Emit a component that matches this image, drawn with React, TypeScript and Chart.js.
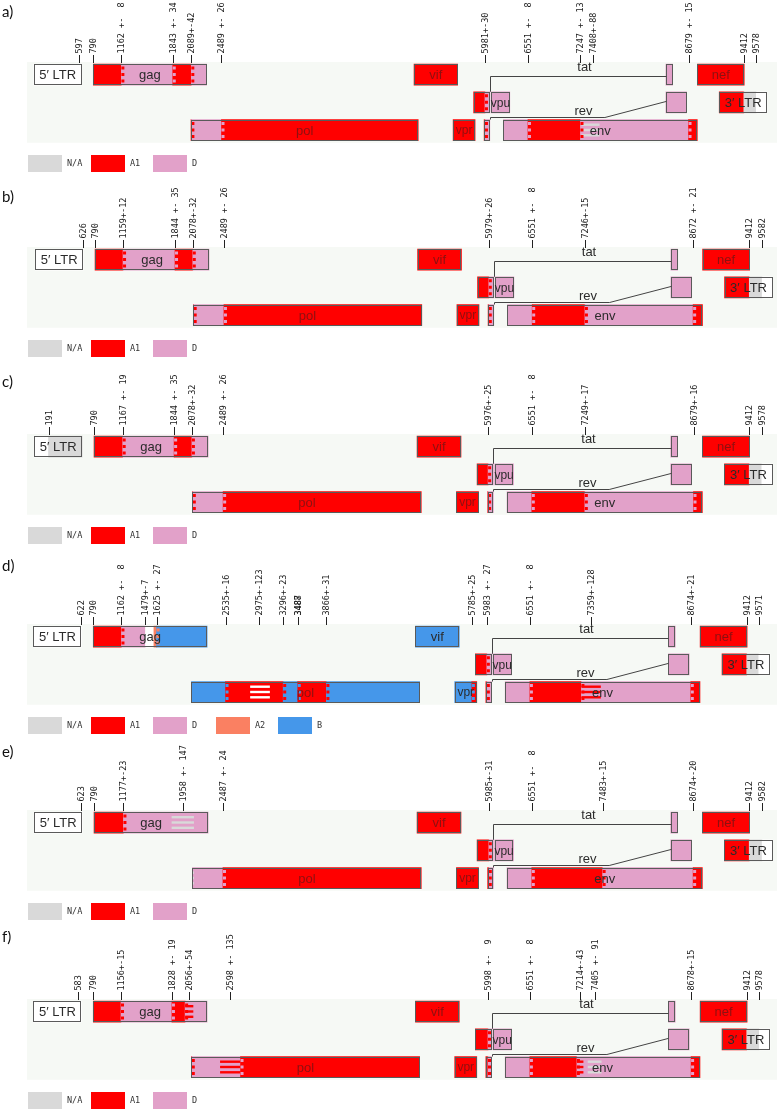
import React, { useEffect, useRef } from 'react';
import { Chart, registerables } from 'chart.js';

Chart.register(...registerables);

// ---------- colours & names of subtypes ----------
const SUBTYPE_COLORS: Record<string, string> = {
  NA: '#d9d9d9',
  A1: '#ff0000',
  D: '#e2a1c9',
  A2: '#fa8062',
  B: '#4597ea',
  W: '#ffffff',
};
const SUBTYPE_NAMES: Record<string, string> = { NA: 'N/A', A1: 'A1', D: 'D', A2: 'A2', B: 'B' };

const ROWS = ['row1', 'row2', 'row3'];

// HXB2 gene map: [key, label, start, end, row]
const GENES: [string, string, number, number, number][] = [
  ['5LTR', '5\u2032 LTR', 1, 634, 0],
  ['gag', 'gag', 790, 2292, 0],
  ['pol', 'pol', 2085, 5096, 2],
  ['vif', 'vif', 5041, 5619, 0],
  ['vpr', 'vpr', 5559, 5850, 2],
  ['tat1', '', 5831, 6045, 1],
  ['rev1', '', 5970, 6045, 2],
  ['vpu', 'vpu', 6062, 6310, 1],
  ['env', 'env', 6225, 8795, 2],
  ['tat2', '', 8379, 8469, 0],
  ['rev2', '', 8379, 8653, 1],
  ['nef', 'nef', 8797, 9417, 0],
  ['3LTR', '3\u2032 LTR', 9086, 9719, 1],
];

// ---------- panel a ----------
const segA = [
  ['5LTR', 1, 634, 'W'],
  ['gag', 790, 1162, 'A1'], ['gag', 1162, 1843, 'D'], ['gag', 1843, 2089, 'A1'], ['gag', 2089, 2292, 'D'],
  ['pol', 2085, 2090, 'A1'], ['pol', 2090, 2489, 'D'], ['pol', 2489, 5096, 'A1'],
  ['vif', 5041, 5619, 'A1'],
  ['vpr', 5559, 5850, 'A1'],
  ['tat1', 5831, 5981, 'A1'], ['tat1', 5981, 6045, 'D'],
  ['rev1', 5970, 5981, 'A1'], ['rev1', 5981, 6045, 'D'],
  ['vpu', 6062, 6310, 'D'],
  ['env', 6225, 6551, 'D'], ['env', 6551, 7247, 'A1'], ['env', 7247, 8679, 'D'], ['env', 8679, 8795, 'A1'],
  ['tat2', 8379, 8469, 'D'],
  ['rev2', 8379, 8653, 'D'],
  ['nef', 8797, 9417, 'A1'],
  ['3LTR', 9086, 9412, 'A1'], ['3LTR', 9412, 9578, 'NA'], ['3LTR', 9578, 9719, 'W'],
];
const stripesA = [['env', 7262, 7500, 'NA']];
const ticksA = [
  [597, '597'], [790, '790'], [1162, '1162 +-  8'], [1843, '1843 +- 34'], [2089, '2089+-42'],
  [2489, '2489 +- 26'], [5981, '5981+-30'], [6551, '6551 +-  8'], [7247, '7247 +- 13'],
  [7408, '7408+-88'], [8679, '8679 +- 15'], [9412, '9412'], [9578, '9578'],
];
const legendA = ['NA', 'A1', 'D'];

// ---------- panel b ----------
const segB = [
  ['5LTR', 1, 634, 'W'],
  ['gag', 790, 1159, 'A1'], ['gag', 1159, 1844, 'D'], ['gag', 1844, 2078, 'A1'], ['gag', 2078, 2292, 'D'],
  ['pol', 2085, 2090, 'A1'], ['pol', 2090, 2489, 'D'], ['pol', 2489, 5096, 'A1'],
  ['vif', 5041, 5619, 'A1'],
  ['vpr', 5559, 5850, 'A1'],
  ['tat1', 5831, 5979, 'A1'], ['tat1', 5979, 6045, 'D'],
  ['rev1', 5970, 5979, 'A1'], ['rev1', 5979, 6045, 'D'],
  ['vpu', 6062, 6310, 'D'],
  ['env', 6225, 6551, 'D'], ['env', 6551, 7246, 'A1'], ['env', 7246, 8672, 'D'], ['env', 8672, 8795, 'A1'],
  ['tat2', 8379, 8469, 'D'],
  ['rev2', 8379, 8653, 'D'],
  ['nef', 8797, 9417, 'A1'],
  ['3LTR', 9086, 9412, 'A1'], ['3LTR', 9412, 9582, 'NA'], ['3LTR', 9582, 9719, 'W'],
];
const stripesB: any[] = [];
const ticksB = [
  [626, '626'], [790, '790'], [1159, '1159+-12'], [1844, '1844 +- 35'], [2078, '2078+-32'],
  [2489, '2489 +- 26'], [5979, '5979+-26'], [6551, '6551 +-  8'], [7246, '7246+-15'],
  [8672, '8672 +- 21'], [9412, '9412'], [9582, '9582'],
];
const legendB = ['NA', 'A1', 'D'];

// ---------- panel c ----------
const segC = [
  ['5LTR', 1, 191, 'W'], ['5LTR', 191, 634, 'NA'],
  ['gag', 790, 1167, 'A1'], ['gag', 1167, 1844, 'D'], ['gag', 1844, 2078, 'A1'], ['gag', 2078, 2292, 'D'],
  ['pol', 2085, 2090, 'A1'], ['pol', 2090, 2489, 'D'], ['pol', 2489, 5096, 'A1'],
  ['vif', 5041, 5619, 'A1'],
  ['vpr', 5559, 5850, 'A1'],
  ['tat1', 5831, 5976, 'A1'], ['tat1', 5976, 6045, 'D'],
  ['rev1', 5970, 5976, 'A1'], ['rev1', 5976, 6045, 'D'],
  ['vpu', 6062, 6310, 'D'],
  ['env', 6225, 6551, 'D'], ['env', 6551, 7249, 'A1'], ['env', 7249, 8679, 'D'], ['env', 8679, 8795, 'A1'],
  ['tat2', 8379, 8469, 'D'],
  ['rev2', 8379, 8653, 'D'],
  ['nef', 8797, 9417, 'A1'],
  ['3LTR', 9086, 9412, 'A1'], ['3LTR', 9412, 9578, 'NA'], ['3LTR', 9578, 9719, 'W'],
];
const stripesC: any[] = [];
const ticksC = [
  [191, '191'], [790, '790'], [1167, '1167 +- 19'], [1844, '1844 +- 35'], [2078, '2078+-32'],
  [2489, '2489 +- 26'], [5976, '5976+-25'], [6551, '6551 +-  8'], [7249, '7249+-17'],
  [8679, '8679+-16'], [9412, '9412'], [9578, '9578'],
];
const legendC = ['NA', 'A1', 'D'];

// ---------- panel d ----------
const segD = [
  ['5LTR', 1, 634, 'W'],
  ['gag', 790, 1162, 'A1'], ['gag', 1162, 1479, 'D'], ['gag', 1479, 1590, 'W'], ['gag', 1590, 1625, 'A2'], ['gag', 1625, 2292, 'B'],
  ['pol', 2085, 2535, 'B'], ['pol', 2535, 3296, 'A1'], ['pol', 3296, 3488, 'B'], ['pol', 3488, 3866, 'A1'], ['pol', 3866, 5096, 'B'],
  ['vif', 5041, 5619, 'B'],
  ['vpr', 5559, 5785, 'B'], ['vpr', 5785, 5850, 'A1'],
  ['tat1', 5831, 5983, 'A1'], ['tat1', 5983, 6045, 'D'],
  ['rev1', 5970, 5983, 'A1'], ['rev1', 5983, 6045, 'D'],
  ['vpu', 6062, 6310, 'D'],
  ['env', 6225, 6551, 'D'], ['env', 6551, 7231, 'A1'], ['env', 7231, 8674, 'D'], ['env', 8674, 8795, 'A1'],
  ['tat2', 8379, 8469, 'D'],
  ['rev2', 8379, 8653, 'D'],
  ['nef', 8797, 9417, 'A1'],
  ['3LTR', 9086, 9412, 'A1'], ['3LTR', 9412, 9571, 'NA'], ['3LTR', 9571, 9719, 'W'],
];
const stripesD = [['pol', 2860, 3120, 'W'], ['env', 7231, 7487, 'A1']];
const ticksD = [
  [622, '622'], [790, '790'], [1162, '1162 +-  8'], [1479, '1479+-7'], [1625, '1625 +- 27'],
  [2535, '2535+-16'], [2975, '2975+-123'], [3296, '3296+-23'], [3487, '3487'], [3488, '3488'],
  [3866, '3866+-31'], [5785, '5785+-25'], [5983, '5983 +- 27'], [6551, '6551 +-  8'],
  [7359, '7359+-128'], [8674, '8674+-21'], [9412, '9412'], [9571, '9571'],
];
const legendD = ['NA', 'A1', 'D', 'A2', 'B'];

// ---------- panel e ----------
const segE = [
  ['5LTR', 1, 634, 'W'],
  ['gag', 790, 1177, 'A1'], ['gag', 1177, 2292, 'D'],
  ['pol', 2085, 2487, 'D'], ['pol', 2487, 5096, 'A1'],
  ['vif', 5041, 5619, 'A1'],
  ['vpr', 5559, 5850, 'A1'],
  ['tat1', 5831, 5985, 'A1'], ['tat1', 5985, 6045, 'D'],
  ['rev1', 5970, 5985, 'A1'], ['rev1', 5985, 6045, 'D'],
  ['vpu', 6062, 6310, 'D'],
  ['env', 6225, 6551, 'D'], ['env', 6551, 7483, 'A1'], ['env', 7483, 8674, 'D'], ['env', 8674, 8795, 'A1'],
  ['tat2', 8379, 8469, 'D'],
  ['rev2', 8379, 8653, 'D'],
  ['nef', 8797, 9417, 'A1'],
  ['3LTR', 9086, 9412, 'A1'], ['3LTR', 9412, 9582, 'NA'], ['3LTR', 9582, 9719, 'W'],
];
const stripesE = [['gag', 1811, 2105, 'NA'], ['pol', 2085, 2105, 'NA']];
const ticksE = [
  [623, '623'], [790, '790'], [1177, '1177+-23'], [1958, '1958 +- 147'], [2487, '2487 +- 24'],
  [5985, '5985+-31'], [6551, '6551 +-  8'], [7483, '7483+-15'], [8674, '8674+-20'],
  [9412, '9412'], [9582, '9582'],
];
const legendE = ['NA', 'A1', 'D'];

// ---------- panel f ----------
const segF = [
  ['5LTR', 1, 634, 'W'],
  ['gag', 790, 1156, 'A1'], ['gag', 1156, 1828, 'D'], ['gag', 1828, 2002, 'A1'], ['gag', 2002, 2292, 'D'],
  ['pol', 2085, 2090, 'A1'], ['pol', 2090, 2733, 'D'], ['pol', 2733, 5096, 'A1'],
  ['vif', 5041, 5619, 'A1'],
  ['vpr', 5559, 5850, 'A1'],
  ['tat1', 5831, 5998, 'A1'], ['tat1', 5998, 6045, 'D'],
  ['rev1', 5970, 5998, 'A1'], ['rev1', 5998, 6045, 'D'],
  ['vpu', 6062, 6310, 'D'],
  ['env', 6225, 6551, 'D'], ['env', 6551, 7171, 'A1'], ['env', 7171, 8678, 'D'], ['env', 8678, 8795, 'A1'],
  ['tat2', 8379, 8469, 'D'],
  ['rev2', 8379, 8653, 'D'],
  ['nef', 8797, 9417, 'A1'],
  ['3LTR', 9086, 9412, 'A1'], ['3LTR', 9412, 9578, 'NA'], ['3LTR', 9578, 9719, 'W'],
];
const stripesF = [['gag', 2002, 2110, 'A1'], ['pol', 2463, 2733, 'A1'], ['env', 7171, 7257, 'A1'], ['env', 7314, 7496, 'NA']];
const ticksF = [
  [583, '583'], [790, '790'], [1156, '1156+-15'], [1828, '1828 +- 19'], [2056, '2056+-54'],
  [2598, '2598 +- 135'], [5998, '5998 +-  9'], [6551, '6551 +-  8'], [7214, '7214+-43'],
  [7405, '7405 +- 91'], [8678, '8678+-15'], [9412, '9412'], [9578, '9578'],
];
const legendF = ['NA', 'A1', 'D'];

// ---------- layout (pixel geometry, kept separate from data) ----------
const CANVAS_H = 180;
const LOCAL_TOP = 70; // local y of row-1 top inside each canvas
const BAR = 21.25;
const PITCH = 27.75;

const PANELS = [
  { name: 'a)', segs: segA, stripes: stripesA, ticks: ticksA, legend: legendA, top: 64, labelY: 12, x0: 33.7, k: 0.07545 },
  { name: 'b)', segs: segB, stripes: stripesB, ticks: ticksB, legend: legendB, top: 249, labelY: 197, x0: 35.1, k: 0.07588 },
  { name: 'c)', segs: segC, stripes: stripesC, ticks: ticksC, legend: legendC, top: 436, labelY: 382, x0: 34.0, k: 0.07599 },
  { name: 'd)', segs: segD, stripes: stripesD, ticks: ticksD, legend: legendD, top: 626, labelY: 566, x0: 33.4, k: 0.07579 },
  { name: 'e)', segs: segE, stripes: stripesE, ticks: ticksE, legend: legendE, top: 812, labelY: 752, x0: 34.0, k: 0.07599 },
  { name: 'f)', segs: segF, stripes: stripesF, ticks: ticksF, legend: legendF, top: 1001, labelY: 937, x0: 33.4, k: 0.07579 },
];

const geneMap: Record<string, [string, string, number, number, number]> = {};
GENES.forEach((g) => { geneMap[g[0]] = g; });

function makeDecor(p: any) {
  const canvasTop = p.top - LOCAL_TOP;
  return {
    id: 'decor',
    beforeDatasetsDraw(chart: any) {
      const { ctx } = chart;
      const ys = chart.scales.y;
      const t0 = ys.getPixelForValue(0) - BAR / 2;
      const b2 = ys.getPixelForValue(2) + BAR / 2;
      ctx.save();
      ctx.fillStyle = '#f6f9f5';
      ctx.fillRect(27, t0 - 2, 750, b2 - t0 + 4);
      ctx.restore();
    },
    afterDatasetsDraw(chart: any) {
      const { ctx } = chart;
      const xs = chart.scales.x;
      const ys = chart.scales.y;
      const px = (v: number) => xs.getPixelForValue(v);
      const rowMid = (r: number) => ys.getPixelForValue(r);
      const rowTop = (r: number) => ys.getPixelForValue(r) - BAR / 2;
      ctx.save();

      // striped (uncertain) regions
      p.stripes.forEach(([g, s, e, sub]: any) => {
        const top = rowTop(geneMap[g][4]);
        ctx.fillStyle = SUBTYPE_COLORS[sub];
        [4, 9.3, 14.6].forEach((o) => ctx.fillRect(px(s), top + o, px(e) - px(s), 2.4));
      });

      // serrated breakpoints
      for (let i = 1; i < p.segs.length; i++) {
        const a = p.segs[i - 1];
        const b = p.segs[i];
        if (a[0] !== b[0] || a[3] === b[3]) continue;
        if (a[0].indexOf('LTR') >= 0) continue;
        if (a[3] === 'W' || b[3] === 'W' || a[3] === 'NA' || b[3] === 'NA') continue;
        const top = rowTop(geneMap[a[0]][4]);
        const x = px(b[1]);
        ctx.fillStyle = SUBTYPE_COLORS[a[3]];
        [2.5, 9, 15.5].forEach((o) => ctx.fillRect(x, top + o, 3, 3));
      }

      // gene outlines
      ctx.strokeStyle = '#5a5a5a';
      ctx.lineWidth = 1;
      GENES.forEach(([, , s, e, r]) => {
        const x0 = Math.round(px(s)) + 0.5;
        const x1 = Math.round(px(e)) - 0.5;
        const t = Math.round(rowTop(r)) + 0.5;
        ctx.strokeRect(x0, t, x1 - x0, Math.round(BAR) - 1);
      });

      // gene names
      ctx.textAlign = 'center';
      ctx.textBaseline = 'middle';
      GENES.forEach(([key, label, s, e, r]) => {
        if (!label) return;
        const mid = (s + e) / 2;
        const seg = p.segs.find((sg: any) => sg[0] === key && sg[1] <= mid && sg[2] >= mid);
        const onRed = seg && seg[3] === 'A1' && key.indexOf('LTR') < 0;
        ctx.fillStyle = onRed ? '#8e1010' : '#2b2b2b';
        ctx.font = (key === 'vpu' || key === 'vpr' ? '12px' : '13px') + ' "Liberation Sans", Arial, sans-serif';
        ctx.fillText(label, (px(s) + px(e)) / 2, rowMid(r) + 1);
      });

      // tat / rev splice connectors
      const xs1 = Math.round(px(6045)) + 0.5;
      const xe2 = Math.round(px(8379)) + 0.5;
      ctx.strokeStyle = '#444';
      const tatY = Math.round(rowTop(0) + 12) + 0.5;
      ctx.beginPath();
      ctx.moveTo(xs1, rowTop(1));
      ctx.lineTo(xs1, tatY);
      ctx.lineTo(xe2, tatY);
      ctx.stroke();
      const revY = Math.round(rowTop(2) - 3) + 0.5;
      const xm = xs1 + 0.65 * (xe2 - xs1);
      ctx.beginPath();
      ctx.moveTo(xs1, rowTop(2));
      ctx.lineTo(xs1, revY);
      ctx.lineTo(xm, revY);
      ctx.lineTo(xe2, rowMid(1) - 1);
      ctx.stroke();
      ctx.font = '13px "Liberation Sans", Arial, sans-serif';
      ctx.fillStyle = '#2b2b2b';
      ctx.fillText('tat', (xs1 + xe2) / 2 + 6, tatY - 9);
      ctx.fillText('rev', (xs1 + xe2) / 2 + 5, revY - 6);

      // breakpoint tick labels
      ctx.font = '8.5px "DejaVu Sans Mono", monospace';
      ctx.fillStyle = '#222';
      ctx.strokeStyle = '#222';
      p.ticks.forEach(([v, txt]: any) => {
        const x = Math.round(px(v)) + 0.5;
        const yb = Math.round(rowTop(0)) - 1;
        ctx.beginPath();
        ctx.moveTo(x, yb);
        ctx.lineTo(x, yb - 8);
        ctx.stroke();
        ctx.save();
        ctx.translate(x, yb - 9.5);
        ctx.rotate(-Math.PI / 2);
        ctx.textAlign = 'left';
        ctx.textBaseline = 'middle';
        ctx.fillText(txt, 0, 0.5);
        ctx.restore();
      });

      // legend
      const ly = Math.round(rowTop(2) + BAR + 14);
      p.legend.forEach((k: string, i: number) => {
        const bx = Math.round(28 + i * 62.5);
        ctx.fillStyle = SUBTYPE_COLORS[k];
        ctx.fillRect(bx, ly, 34, 17);
        ctx.fillStyle = '#333';
        ctx.font = '8.5px "DejaVu Sans Mono", monospace';
        ctx.textAlign = 'left';
        ctx.textBaseline = 'middle';
        ctx.fillText(SUBTYPE_NAMES[k], bx + 39, ly + 9);
      });

      // panel letter
      ctx.font = '15px Lato, "Open Sans", sans-serif';
      ctx.fillStyle = '#111';
      ctx.textAlign = 'left';
      ctx.textBaseline = 'middle';
      ctx.fillText(p.name, 2, p.labelY - canvasTop);

      ctx.restore();
    },
  };
}

function Panel({ p }: { p: any }) {
  const ref = useRef<HTMLCanvasElement | null>(null);
  useEffect(() => {
    if (!ref.current) return;
    const segs = p.segs;
    const data = segs.map((s: any) => ({ x: [s[1], s[2]], y: ROWS[geneMap[s[0]][4]] }));
    const padTop = LOCAL_TOP - (PITCH - BAR) / 2;
    const padBottom = CANVAS_H - padTop - 3 * PITCH;
    const chart = new Chart(ref.current, {
      type: 'bar',
      data: {
        labels: ROWS,
        datasets: [
          {
            data,
            backgroundColor: segs.map((s: any) => SUBTYPE_COLORS[s[3]]),
            borderWidth: 0,
            barThickness: BAR,
            grouped: false,
          } as any,
        ],
      },
      options: {
        indexAxis: 'y',
        responsive: false,
        animation: false,
        layout: { padding: { top: padTop, bottom: padBottom, left: 0, right: 0 } },
        scales: {
          x: { type: 'linear', display: false, min: -p.x0 / p.k, max: (781 - p.x0) / p.k },
          y: { type: 'category', display: false, offset: true },
        },
        plugins: { legend: { display: false }, tooltip: { enabled: false } },
      } as any,
      plugins: [makeDecor(p)],
    });
    return () => chart.destroy();
  }, [p]);
  return (
    <canvas
      ref={ref}
      width={781}
      height={CANVAS_H}
      style={{ position: 'absolute', left: 0, top: p.top - LOCAL_TOP, width: 781, height: CANVAS_H }}
    />
  );
}

export default function App() {
  return (
    <div style={{ position: 'absolute', left: 0, top: 0, width: 781, height: 1112, overflow: 'hidden', background: '#fff' }}>
      {PANELS.map((p) => (
        <Panel key={p.name} p={p} />
      ))}
    </div>
  );
}
